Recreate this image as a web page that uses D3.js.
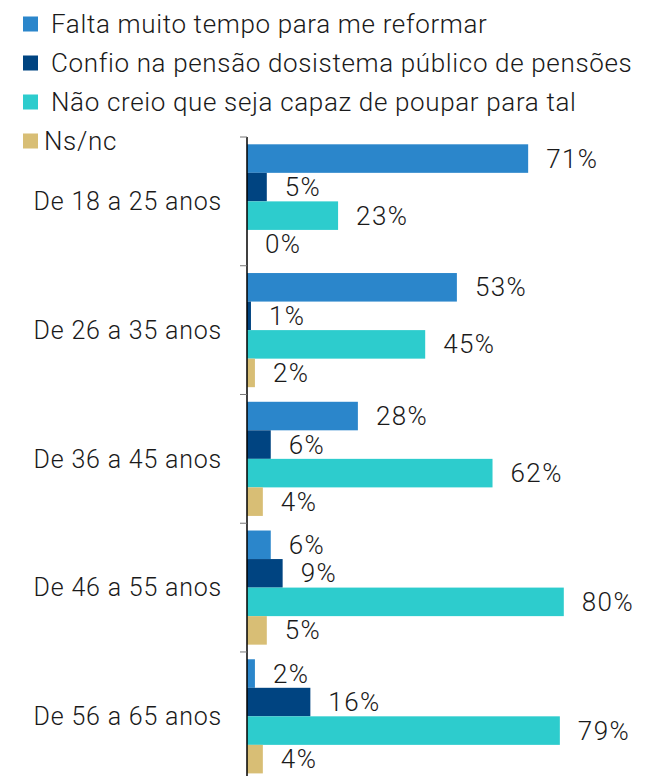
<!DOCTYPE html>
<meta charset="utf-8">
<style>
body { margin: 0; background: #fff; }
text { font-family: Roboto, sans-serif; font-weight: 300; fill: #1a1a1a; }
.legend text { font-size: 26px; letter-spacing: 0.65px; }
.cat text { font-size: 25px; letter-spacing: 0.8px; }
.val { font-size: 26px; letter-spacing: 1.4px; }
</style>
<body>
<script src="https://cdn.jsdelivr.net/npm/d3@7"></script>
<script>

// data
var groups = ["De 18 a 25 anos", "De 26 a 35 anos", "De 36 a 45 anos", "De 46 a 55 anos", "De 56 a 65 anos"];
var series = ["Falta muito tempo para me reformar", "Confio na pensão dosistema público de pensões", "Não creio que seja capaz de poupar para tal", "Ns/nc"];
var falta = [71, 53, 28, 6, 2];
var confio = [5, 1, 6, 9, 16];
var naoCreio = [23, 45, 62, 80, 79];
var nsnc = [0, 2, 4, 5, 4];
var colors = ["#2b86cb", "#004481", "#2dcccd", "#d8be75"];

var values = [falta, confio, naoCreio, nsnc];

var width = 650, height = 776;
var x0 = 247;

var svg = d3.select("body").append("svg")
    .attr("width", width)
    .attr("height", height);

// scales
var x = d3.scaleLinear().domain([0, 100]).range([x0, x0 + 396]);
var y = d3.scaleBand().domain(groups).range([137, 780.7]);
var yInner = d3.scaleBand().domain(d3.range(series.length)).range([7.3, y.bandwidth() - 7.3]);

// legend
var legend = svg.append("g").attr("class", "legend");
series.forEach(function(s, i) {
  var cy = 24 + i * 39;
  legend.append("rect")
      .attr("x", 23)
      .attr("y", cy - 7.5)
      .attr("width", 15)
      .attr("height", 15)
      .attr("fill", colors[i]);
  legend.append("text")
      .attr("x", i == 3 ? 44 : 51)
      .attr("y", cy)
      .attr("dy", "0.35em")
      .text(s);
});

// bars
groups.forEach(function(g, gi) {
  var gg = svg.append("g").attr("transform", "translate(0," + y(g) + ")");
  values.forEach(function(arr, si) {
    var v = arr[gi];
    gg.append("rect")
        .attr("x", x(0))
        .attr("y", yInner(si))
        .attr("width", x(v) - x(0))
        .attr("height", yInner.bandwidth())
        .attr("fill", colors[si]);
    gg.append("text")
        .attr("class", "val")
        .attr("x", x(v) + 18)
        .attr("y", yInner(si) + yInner.bandwidth() / 2)
        .attr("dy", "0.35em")
        .text(v + "%");
  });
});

// category axis
var axis = svg.append("g").attr("class", "cat");
axis.append("line")
    .attr("x1", x0).attr("x2", x0)
    .attr("y1", 137).attr("y2", 780.7)
    .attr("stroke", "#000")
    .attr("stroke-width", 1.5);
groups.concat(["end"]).forEach(function(g, i) {
  var ty = i < groups.length ? y(g) : y.range()[1];
  axis.append("line")
      .attr("x1", x0 - 7).attr("x2", x0)
      .attr("y1", ty).attr("y2", ty)
      .attr("stroke", "#777");
});
groups.forEach(function(g) {
  axis.append("text")
      .attr("x", 222)
      .attr("y", y(g) + y.bandwidth() / 2)
      .attr("dy", "0.35em")
      .attr("text-anchor", "end")
      .text(g);
});

</script>
</body>
